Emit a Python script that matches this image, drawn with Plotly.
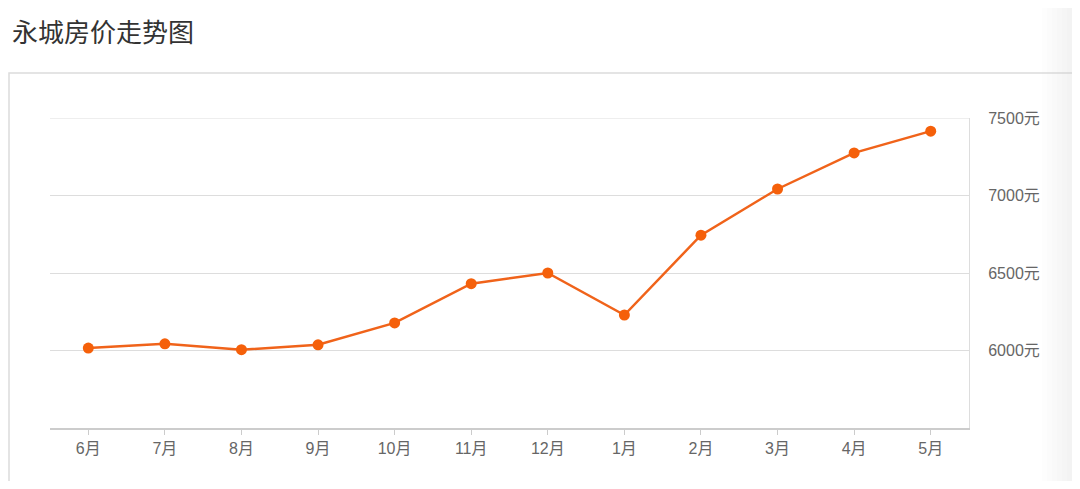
import plotly.graph_objects as go

months = ["6月", "7月", "8月", "9月", "10月", "11月", "12月", "1月", "2月", "3月", "4月", "5月"]
prices = [6016, 6043, 6005, 6037, 6178, 6431, 6500, 6229, 6744, 7042, 7275, 7415]
y_ticks = [6000, 6500, 7000, 7500]
y_tick_labels = [f"{v}元" for v in y_ticks]

OFF = 8  # page body margin
W, H = 1080 - 2 * OFF, 489 - 2 * OFF
L, R, T, B = 50, 969, 118, 428  # plot area in window pixels

def px(x):
    return (x - L) / (R - L)

def py(y):
    return (B - y) / (B - T)

fig = go.Figure()
fig.add_trace(go.Scatter(
    x=months, y=prices, mode="lines+markers",
    line=dict(color="#F0631A", width=2.5),
    marker=dict(color="#F5600A", size=11),
    hoverinfo="x+y",
))

shapes = []
# panel frame
shapes.append(dict(type="rect", xref="paper", yref="paper",
                   x0=px(9), x1=px(1100), y0=py(73), y1=py(520),
                   line=dict(color="#dcdcdc", width=1.5), fillcolor="rgba(0,0,0,0)", layer="below"))
# top grid line at the edge of the plot area
shapes.append(dict(type="line", xref="paper", yref="y", x0=0, x1=1, y0=7500, y1=7500,
                   line=dict(color="#dddddd", width=1), layer="below"))
# light grey shade at the right edge
for i in range(8):
    x0 = 1042 + i * 5
    shapes.append(dict(type="rect", xref="paper", yref="paper",
                       x0=px(x0), x1=px(1085), y0=py(-5), y1=py(500),
                       line=dict(width=0), fillcolor="rgba(200,200,200,0.045)", layer="above"))

font_family = "Liberation Sans, Noto Sans CJK SC, sans-serif"

fig.update_layout(
    width=W, height=H,
    margin=dict(l=L - OFF, r=W + OFF - R, t=T - OFF, b=H + OFF - B),
    paper_bgcolor="white", plot_bgcolor="white",
    showlegend=False,
    font=dict(family=font_family, color="#666666", size=16),
    shapes=shapes,
    annotations=[dict(text="永城房价走势图", xref="paper", yref="paper",
                      x=px(10), y=py(31), xanchor="left", yanchor="middle",
                      showarrow=False,
                      font=dict(family="Noto Sans CJK SC, sans-serif", size=26, color="#333333"))],
    xaxis=dict(
        type="category", range=[-0.5, len(months) - 0.5],
        showgrid=False, showline=True, linecolor="#cccccc", linewidth=2,
        ticks="outside", ticklen=5, tickcolor="#cccccc",
        tickfont=dict(size=16, color="#666666"),
        zeroline=False, fixedrange=True,
    ),
    yaxis=dict(
        side="right", range=[5500, 7500],
        tickvals=y_ticks, ticktext=y_tick_labels,
        showgrid=True, gridcolor="#dddddd", gridwidth=1,
        showline=True, linecolor="#dddddd", linewidth=1,
        ticks="", ticklabelstandoff=15,
        tickfont=dict(size=16, color="#666666"),
        zeroline=False, fixedrange=True,
    ),
)

fig.write_html("out.html")
